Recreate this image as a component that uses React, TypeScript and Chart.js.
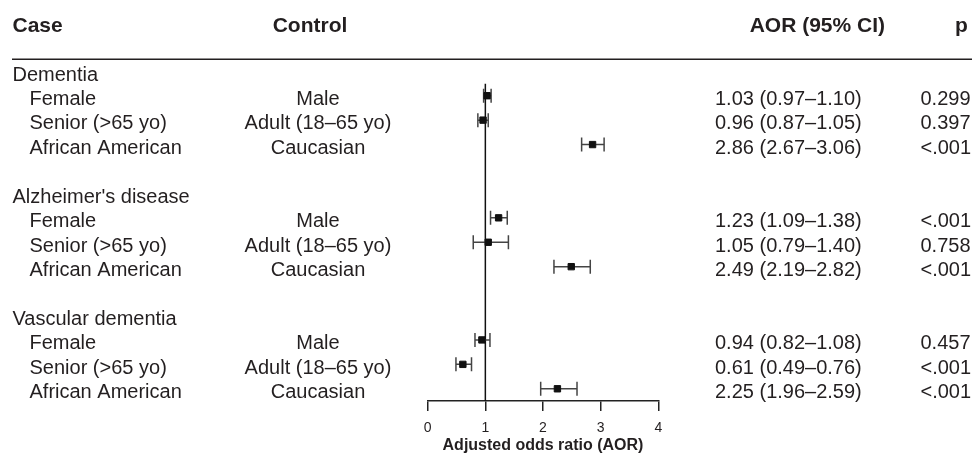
import React, { useEffect, useRef } from "react";
import { Chart, registerables } from "chart.js";

Chart.register(...registerables);

// ---- data ----
const groupNames = ["Dementia", "Alzheimer's disease", "Vascular dementia"];
const caseLabels = ["Female", "Senior (>65 yo)", "African American"];
const controlLabels = ["Male", "Adult (18–65 yo)", "Caucasian"];
const aorValues = [1.03, 0.96, 2.86, 1.23, 1.05, 2.49, 0.94, 0.61, 2.25];
const ciLower = [0.97, 0.87, 2.67, 1.09, 0.79, 2.19, 0.82, 0.49, 1.96];
const ciUpper = [1.1, 1.05, 3.06, 1.38, 1.4, 2.82, 1.08, 0.76, 2.59];
const pValues = ["0.299", "0.397", "<.001", "<.001", "0.758", "<.001", "0.457", "<.001", "<.001"];
const xTicks = [0, 1, 2, 3, 4];
const headerLabels = ["Case", "Control", "AOR (95% CI)", "p"];
const axisTitle = "Adjusted odds ratio (AOR)";
const referenceValue = 1;

// ---- style ----
const FONT = "'Liberation Sans', Arial, Helvetica, sans-serif";
const TEXT = "#231f20";
const ROWS_PER_GROUP = caseLabels.length + 2;

const groupRow = (g: number) => g * ROWS_PER_GROUP;
const itemRow = (k: number) =>
  Math.floor(k / caseLabels.length) * ROWS_PER_GROUP + 1 + (k % caseLabels.length);

const fmt = (v: number) => v.toFixed(2);

const tablePlugin = {
  id: "tableText",
  afterDraw(chart: any) {
    const ctx = chart.ctx as CanvasRenderingContext2D;
    const ys = chart.scales.y;
    ctx.save();
    ctx.fillStyle = TEXT;
    ctx.textBaseline = "alphabetic";

    // header
    const hy = 31.7;
    ctx.font = `bold 21px ${FONT}`;
    ctx.textAlign = "left";
    ctx.fillText(headerLabels[0], 12.5, hy);
    ctx.textAlign = "center";
    ctx.fillText(headerLabels[1], 310, hy);
    ctx.textAlign = "right";
    ctx.fillText(headerLabels[2], 885, hy);
    ctx.textAlign = "left";
    ctx.fillText(headerLabels[3], 955, hy);

    ctx.strokeStyle = TEXT;
    ctx.lineWidth = 1.5;
    ctx.beginPath();
    ctx.moveTo(12, 59.3);
    ctx.lineTo(972, 59.3);
    ctx.stroke();

    ctx.font = `20px ${FONT}`;
    const off = 9.3;
    groupNames.forEach((name, g) => {
      const py = ys.getPixelForValue(groupRow(g)) + off;
      ctx.textAlign = "left";
      ctx.fillText(name, 12.5, py);
    });
    aorValues.forEach((v, k) => {
      const py = ys.getPixelForValue(itemRow(k)) + off;
      const i = k % caseLabels.length;
      ctx.textAlign = "left";
      ctx.fillText(caseLabels[i], 29.5, py);
      ctx.textAlign = "center";
      ctx.fillText(controlLabels[i], 318, py);
      ctx.textAlign = "left";
      ctx.fillText(`${fmt(v)} (${fmt(ciLower[k])}–${fmt(ciUpper[k])})`, 715, py);
      ctx.fillText(pValues[k], 920.5, py);
    });
    ctx.restore();
  },
};

export default function App() {
  const ref = useRef<HTMLCanvasElement | null>(null);

  useEffect(() => {
    document.body.style.margin = "0";
    const canvas = ref.current;
    if (!canvas) return;

    const whiskers = aorValues.map((_, k) => ({
      type: "line" as const,
      data: [
        { x: ciLower[k], y: itemRow(k) },
        { x: ciUpper[k], y: itemRow(k) },
      ],
      showLine: true,
      borderColor: "#444",
      borderWidth: 1.5,
      pointStyle: "line",
      pointRotation: 90,
      pointRadius: 7,
      pointBorderWidth: 1.5,
      pointBorderColor: "#444",
      pointBackgroundColor: "#444",
      order: 1,
    }));

    const totalRows = groupNames.length * ROWS_PER_GROUP - 1;

    const chart = new Chart(canvas, {
      type: "scatter",
      data: {
        datasets: [
          {
            type: "scatter",
            data: aorValues.map((v, k) => ({ x: v, y: itemRow(k) })),
            pointStyle: "rect",
            pointRadius: 4.5,
            pointBorderWidth: 1,
            backgroundColor: "#111",
            borderColor: "#111",
            order: 0,
          } as any,
          ...(whiskers as any[]),
          {
            type: "line",
            data: [
              { x: referenceValue, y: 0.5 },
              { x: referenceValue, y: totalRows - 0.5 },
            ],
            showLine: true,
            borderColor: "#111",
            borderWidth: 1.5,
            pointRadius: 0,
            order: 2,
          } as any,
        ],
      },
      options: {
        responsive: false,
        animation: false,
        events: [],
        layout: { padding: { left: 427.7, right: 313.7, top: 83.5, bottom: 0 } },
        plugins: { legend: { display: false }, tooltip: { enabled: false } },
        scales: {
          x: {
            type: "linear",
            min: xTicks[0],
            max: xTicks[xTicks.length - 1],
            afterBuildTicks: (s: any) => {
              s.ticks = xTicks.map((v) => ({ value: v }));
            },
            afterFit: (s: any) => {
              s.height = 53;
            },
            border: { display: true, color: "#222", width: 1.5 },
            grid: {
              display: true,
              drawOnChartArea: false,
              drawTicks: true,
              tickLength: 10,
              color: "#222",
              lineWidth: 1.5,
            },
            ticks: {
              padding: 9,
              color: TEXT,
              font: { family: FONT, size: 14 },
              maxRotation: 0,
            },
            title: {
              display: true,
              text: axisTitle,
              color: TEXT,
              font: { family: FONT, size: 16, weight: "bold", lineHeight: 1 },
              padding: { top: 0, bottom: 0 },
            },
          },
          y: {
            type: "linear",
            display: false,
            reverse: true,
            min: 0.5,
            max: totalRows - 0.5,
          },
        },
      },
      plugins: [tablePlugin],
    } as any);

    return () => chart.destroy();
  }, []);

  return (
    <div style={{ width: 972, height: 454 }}>
      <canvas ref={ref} width={972} height={454} style={{ display: "block" }} />
    </div>
  );
}
